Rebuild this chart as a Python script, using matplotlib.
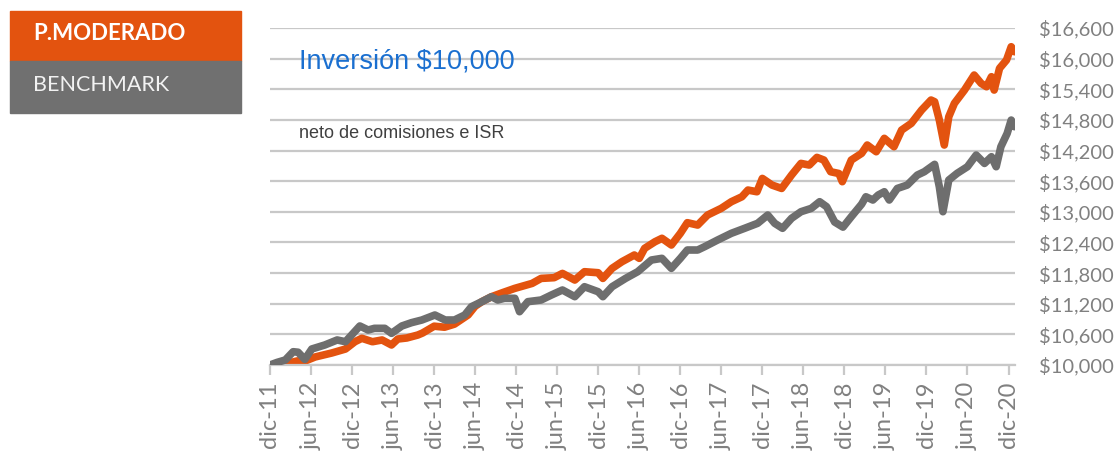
import matplotlib
matplotlib.use("Agg")
import matplotlib.pyplot as plt
import pandas as pd
from matplotlib.ticker import FuncFormatter
from matplotlib.patches import Rectangle

# valores (inversion de $10,000)
fechas_mod = ["2011-12-01", "2012-02-04", "2012-04-01", "2012-05-01", "2012-06-19", "2012-09-01",
              "2012-11-01", "2012-12-13", "2013-01-13", "2013-03-01", "2013-04-13", "2013-05-25",
              "2013-06-22", "2013-08-01", "2013-09-19", "2013-10-10", "2013-12-01", "2014-01-16",
              "2014-03-01", "2014-05-01", "2014-06-01", "2014-07-01", "2014-08-13", "2014-10-01",
              "2014-11-25", "2015-02-10", "2015-03-22", "2015-05-19", "2015-06-25", "2015-08-19",
              "2015-10-01", "2015-12-01", "2015-12-22", "2016-02-01", "2016-03-16", "2016-05-10",
              "2016-06-01", "2016-06-25", "2016-08-10", "2016-09-10", "2016-10-22", "2016-12-01",
              "2017-01-01", "2017-02-16", "2017-04-01", "2017-06-01", "2017-07-16", "2017-09-01",
              "2017-09-28", "2017-11-07", "2017-12-01", "2018-01-13", "2018-02-25", "2018-04-10",
              "2018-05-22", "2018-06-28", "2018-08-01", "2018-09-01", "2018-10-01", "2018-11-07",
              "2018-11-22", "2019-01-01", "2019-02-16", "2019-03-13", "2019-04-22", "2019-05-28",
              "2019-07-10", "2019-08-13", "2019-09-25", "2019-11-10", "2019-12-22", "2020-01-07",
              "2020-01-28", "2020-02-19", "2020-03-10", "2020-04-04", "2020-05-19", "2020-07-01",
              "2020-08-01", "2020-08-25", "2020-09-16", "2020-09-28", "2020-10-22", "2020-11-22",
              "2020-12-13", "2020-12-28"]
moderado = [10000, 10020, 10080, 10070, 10157, 10235,
            10313, 10456, 10523, 10456, 10490, 10392,
            10509, 10529, 10587, 10626, 10760, 10740,
            10800, 10980, 11150, 11240, 11337, 11416,
            11501, 11598, 11696, 11710, 11794, 11664,
            11827, 11807, 11696, 11893, 12023, 12154,
            12089, 12285, 12414, 12481, 12350, 12579,
            12787, 12741, 12937, 13068, 13198, 13295,
            13426, 13393, 13654, 13524, 13458, 13720,
            13948, 13916, 14066, 14014, 13785, 13750,
            13590, 14014, 14145, 14308, 14177, 14439,
            14275, 14601, 14732, 14993, 15189, 15156,
            14797, 14308, 14862, 15124, 15385, 15679,
            15516, 15450, 15646, 15385, 15810, 15972,
            16233, 16135]

fechas_bench = ["2011-12-01", "2012-01-01", "2012-02-07", "2012-03-13", "2012-04-04", "2012-05-04",
                "2012-06-04", "2012-08-01", "2012-09-25", "2012-11-01", "2013-01-04", "2013-02-10",
                "2013-03-10", "2013-04-25", "2013-05-25", "2013-07-10", "2013-08-22", "2013-10-07",
                "2013-12-04", "2014-01-19", "2014-03-01", "2014-04-16", "2014-05-16", "2014-07-01",
                "2014-08-13", "2014-09-10", "2014-10-10", "2014-11-25", "2014-12-16", "2015-01-22",
                "2015-03-22", "2015-05-07", "2015-06-25", "2015-08-19", "2015-10-01", "2015-12-01",
                "2015-12-22", "2016-02-01", "2016-04-01", "2016-05-25", "2016-07-25", "2016-09-10",
                "2016-10-22", "2016-12-01", "2017-01-01", "2017-02-16", "2017-03-19", "2017-05-16",
                "2017-07-16", "2017-09-13", "2017-11-10", "2017-12-25", "2018-01-25", "2018-03-01",
                "2018-04-10", "2018-05-22", "2018-07-07", "2018-08-13", "2018-09-13", "2018-10-19",
                "2018-11-25", "2019-01-01", "2019-02-16", "2019-03-07", "2019-04-07", "2019-05-01",
                "2019-05-28", "2019-06-19", "2019-07-25", "2019-09-07", "2019-10-22", "2019-11-22",
                "2020-01-07", "2020-01-28", "2020-02-13", "2020-03-10", "2020-04-16", "2020-06-01",
                "2020-07-10", "2020-08-16", "2020-09-16", "2020-10-07", "2020-10-28", "2020-11-25",
                "2020-12-13", "2020-12-28"]
benchmark = [10000, 10050, 10098, 10260, 10250, 10110,
             10313, 10392, 10490, 10456, 10764, 10685,
             10718, 10718, 10620, 10764, 10829, 10881,
             10979, 10881, 10881, 10979, 11142, 11240,
             11337, 11273, 11306, 11306, 11044, 11240,
             11273, 11371, 11469, 11338, 11533, 11435,
             11338, 11533, 11696, 11827, 12056, 12089,
             11893, 12089, 12252, 12252, 12317, 12448,
             12579, 12677, 12775, 12937, 12775, 12677,
             12873, 13002, 13068, 13198, 13100, 12800,
             12700, 12904, 13150, 13295, 13231, 13329,
             13393, 13231, 13458, 13524, 13720, 13785,
             13930, 13491, 13002, 13622, 13753, 13883,
             14112, 13948, 14079, 13883, 14275, 14536,
             14797, 14667]

etiquetas_x = ["dic-11", "jun-12", "dic-12", "jun-13", "dic-13", "jun-14", "dic-14", "jun-15",
               "dic-15", "jun-16", "dic-16", "jun-17", "dic-17", "jun-18", "dic-18", "jun-19",
               "dic-19", "jun-20", "dic-20"]
valores_y = list(range(10000, 16601, 600))

NARANJA = "#E3530F"
GRIS = "#6E6E6E"
GRID = "#C8C8C8"
TXT = "#808080"

fig = plt.figure(figsize=(11.18, 4.51), dpi=100)
ax = fig.add_axes([0.2415, 0.1907, 0.6664, 0.7472])

ax.plot(pd.to_datetime(fechas_bench), benchmark, color=GRIS, lw=5.5, solid_joinstyle="round",
        solid_capstyle="round", zorder=3)
ax.plot(pd.to_datetime(fechas_mod), moderado, color=NARANJA, lw=5.5, solid_joinstyle="round",
        solid_capstyle="round", zorder=2)

ax.set_ylim(10000, 16600)
ax.set_xlim(pd.Timestamp("2011-12-01"), pd.Timestamp("2020-12-30"))

ax.set_yticks(valores_y)
ax.yaxis.set_major_formatter(FuncFormatter(lambda v, p: f"${v:,.0f}"))
ax.yaxis.tick_right()
ax.tick_params(axis="y", length=0, pad=17, labelsize=14.5, labelcolor=TXT)
ax.grid(axis="y", color=GRID, lw=1.6)
ax.set_axisbelow(True)

ticks_x = pd.date_range("2011-12-01", "2020-12-01", freq="6MS")
ax.set_xticks(ticks_x)
ax.set_xticklabels(etiquetas_x, rotation=90, va="top", ha="center")
ax.tick_params(axis="x", length=7, width=1.6, color=GRID, pad=5, labelsize=17, labelcolor=TXT)

for s in ["top", "left", "right"]:
    ax.spines[s].set_visible(False)
ax.spines["bottom"].set_color(GRID)
ax.spines["bottom"].set_linewidth(1.6)

for lab in ax.get_xticklabels() + ax.get_yticklabels():
    lab.set_family("Lato")

# textos dentro del grafico
fig.text(299 / 1118, 1 - 62 / 451, "Inversión $10,000", color="#1A6FD0", fontsize=19.5,
         family="Liberation Sans", va="center", ha="left")
fig.text(299 / 1118, 1 - 133 / 451, "neto de comisiones e ISR", color="#404040", fontsize=13,
         family="Liberation Sans", va="center", ha="left")

# leyenda en cajas
fig.patches.append(Rectangle((10 / 1118, 1 - 61 / 451), 231 / 1118, 50 / 451,
                             transform=fig.transFigure, color=NARANJA, zorder=0))
fig.patches.append(Rectangle((10 / 1118, 1 - 113 / 451), 231 / 1118, 52 / 451,
                             transform=fig.transFigure, color="#707070", zorder=0))
fig.text(33 / 1118, 1 - 34 / 451, "P.MODERADO", color="white", fontsize=16, weight="bold",
         family="Lato", va="center", ha="left")
fig.text(33 / 1118, 1 - 85 / 451, "BENCHMARK", color="#F2F2F2", fontsize=15.5, family="Lato",
         va="center", ha="left")

fig.savefig("out.png", dpi=100)
